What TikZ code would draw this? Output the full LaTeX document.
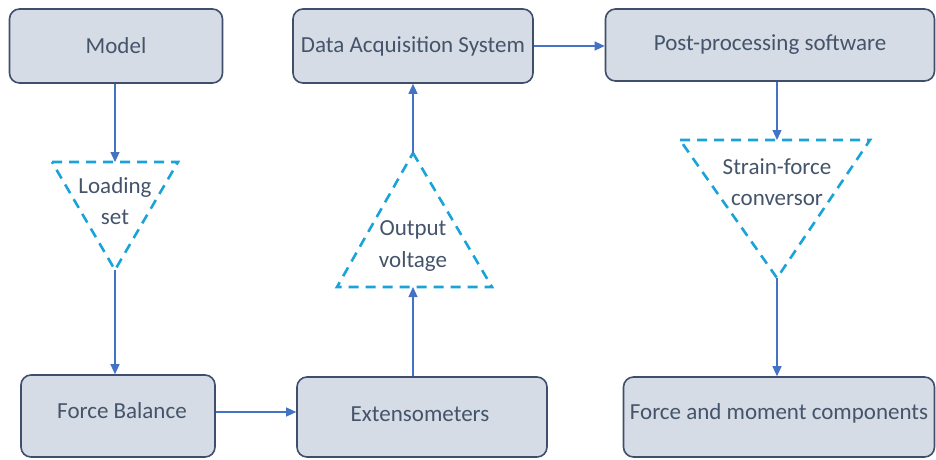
\documentclass[tikz,border=0pt]{standalone}
\usepackage{fontspec}
\setmainfont{Carlito}
\usetikzlibrary{arrows.meta}
\definecolor{boxfill}{HTML}{D6DCE5}
\definecolor{boxdraw}{HTML}{3F4F6B}
\definecolor{txt}{HTML}{44546A}
\definecolor{arr}{HTML}{4472C4}
\definecolor{tri}{HTML}{1AA3D8}
\tikzset{
  box/.style={draw=boxdraw, line width=1.6pt, fill=boxfill, rounded corners=10pt,
    inner sep=0pt, text=txt, font=\fontsize{23}{28}\selectfont},
  tritext/.style={text=txt, align=center, inner sep=0pt,
    font=\fontsize{23}{31.5}\selectfont},
  triline/.style={draw=tri, line width=2.6pt, dash pattern=on 10pt off 7pt},
  conn/.style={draw=arr, line width=1.2pt, -{Triangle[length=10pt,width=9pt]}}
}
\begin{document}
\begin{tikzpicture}[x=1pt,y=-1pt]
\useasboundingbox (0,0) rectangle (936,459);
% boxes
\node[box, minimum width=213pt, minimum height=74pt] (model) at (116,46) {Model};
\node[box, minimum width=240pt, minimum height=74pt] (das) at (413,46) {Data Acquisition System};
\node[box, minimum width=329pt, minimum height=72pt] (post) at (770,45) {Post-processing software};
\node[box, minimum width=194pt, minimum height=82pt] (fb) at (118,416) {};
\node[tritext] at (122,411) {\fontsize{23}{28}\selectfont Force Balance};
\node[box, minimum width=250pt, minimum height=80pt] (ext) at (422,417) {};
\node[tritext] at (420,414) {\fontsize{23}{28}\selectfont Extensometers};
\node[box, minimum width=311pt, minimum height=80pt] (fmc) at (779,417) {};
\node[tritext] at (779,413) {\fontsize{23}{28}\selectfont Force and moment components};
% triangles
\coordinate (ls-l) at (52,162); \coordinate (ls-r) at (178,162); \coordinate (ls-a) at (115,270);
\coordinate (ls-t) at (115,162);
\draw[triline] (ls-l) -- (ls-r) -- (ls-a) -- cycle;
\node[tritext] (ls) at (115,201) {Loading\\set};
\coordinate (ov-a) at (413,153); \coordinate (ov-l) at (337,287); \coordinate (ov-r) at (492,287);
\coordinate (ov-b) at (413,287);
\draw[triline] (ov-a) -- (ov-r) -- (ov-l) -- cycle;
\node[tritext] (ov) at (413,246) {Output\\voltage};
\coordinate (sf-l) at (680,140); \coordinate (sf-r) at (870,140); \coordinate (sf-a) at (777,278);
\coordinate (sf-t) at (777,140);
\draw[triline] (sf-l) -- (sf-r) -- (sf-a) -- cycle;
\node[tritext] (sf) at (777,182) {Strain-force\\conversor};
% connectors
\draw[conn] (model.south -| ls-t) -- (ls-t);
\draw[conn] (ls-a) -- (ls-a |- fb.north);
\draw[conn] (fb.east |- 0,412) -- (ext.west |- 0,412);
\draw[conn] (ext.north -| ov-b) -- (ov-b);
\draw[conn] (ov-a) -- (ov-a |- das.south);
\draw[conn] (das.east) -- (post.west |- das.east);
\draw[conn] (post.south -| sf-t) -- (sf-t);
\draw[conn] (sf-a) -- (sf-a |- fmc.north);
\end{tikzpicture}
\end{document}
